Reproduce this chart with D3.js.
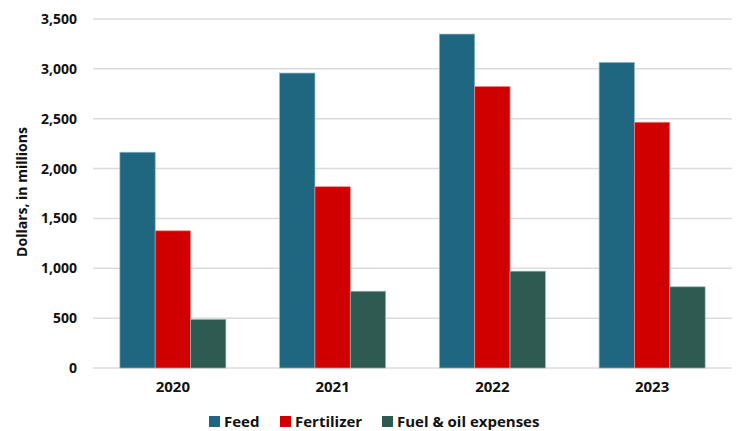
<!DOCTYPE html>
<html>
<head>
<meta charset="utf-8">
<script src="https://cdn.jsdelivr.net/npm/d3@7"></script>
<style>
  body { margin: 0; background: #fff; }
  text { font-family: "Open Sans", "DejaVu Sans", sans-serif; font-weight: bold; fill: #111; }
</style>
</head>
<body>
<div id="chart"></div>
<script>
// values (dollars, in millions)
var years = ["2020", "2021", "2022", "2023"];
var seriesNames = ["Feed", "Fertilizer", "Fuel & oil expenses"];
var feed = [2164, 2958, 3349, 3064];
var fertilizer = [1376, 1818, 2823, 2465];
var fuelOil = [488, 770, 971, 814];
var yTicks = [0, 500, 1000, 1500, 2000, 2500, 3000, 3500];

var colors = ["#1f6680", "#d10000", "#2e5a52"];
var strokes = ["#8fb6c6", "#f08a8a", "#9ab3ad"];

var W = 739, H = 431;
var margin = { top: 19, right: 7, bottom: 63, left: 93 };
var width = W - margin.left - margin.right;
var height = H - margin.top - margin.bottom;

var svg = d3.select("#chart").append("svg")
    .attr("width", W)
    .attr("height", H);

var g = svg.append("g")
    .attr("transform", "translate(" + margin.left + "," + margin.top + ")");

var x = d3.scaleBand().domain(years).range([0, width]).padding(0);
var x1 = d3.scaleBand().domain(seriesNames).range([0, 106]);
var y = d3.scaleLinear().domain([0, 3500]).range([height, 0]);

// gridlines
g.selectAll("line.grid")
    .data(yTicks)
    .enter()
    .append("line")
    .attr("class", "grid")
    .attr("x1", 0)
    .attr("x2", width)
    .attr("y1", function (d) { return y(d); })
    .attr("y2", function (d) { return y(d); })
    .style("stroke", "#dcdcdc")
    .style("stroke-width", 1.5);

// y axis labels
var yaxis = g.append("g")
    .call(d3.axisLeft(y).tickValues(yTicks).tickSize(0).tickPadding(16).tickFormat(d3.format(",")));
yaxis.select("path").remove();
yaxis.selectAll("text")
    .style("font-size", "14px")
    .style("fill", "#111");

// x axis labels
var xaxis = g.append("g")
    .attr("transform", "translate(0," + height + ")")
    .call(d3.axisBottom(x).tickSize(0).tickPadding(13));
xaxis.select("path").remove();
xaxis.selectAll("text")
    .style("font-size", "15px")
    .style("fill", "#111");

// bars
var allSeries = [feed, fertilizer, fuelOil];
var rows = [];
for (var s = 0; s < allSeries.length; s++) {
    for (var i = 0; i < years.length; i++) {
        rows.push({ series: s, year: years[i], value: allSeries[s][i] });
    }
}

g.selectAll("rect.bar")
    .data(rows)
    .enter()
    .append("rect")
    .attr("class", "bar")
    .attr("x", function (d) {
        return x(d.year) + (x.bandwidth() - 106) / 2 + x1(seriesNames[d.series]);
    })
    .attr("y", function (d) { return y(d.value); })
    .attr("width", x1.bandwidth())
    .attr("height", function (d) { return height - y(d.value); })
    .style("fill", function (d) { return colors[d.series]; })
    .style("stroke", function (d) { return strokes[d.series]; })
    .style("stroke-width", 0.7);

// y axis title
svg.append("text")
    .attr("transform", "translate(27,192) rotate(-90)")
    .attr("text-anchor", "middle")
    .style("font-size", "14px")
    .text("Dollars, in millions");

// legend
var legendX = [209, 280, 382];
var legend = svg.selectAll("g.legend")
    .data(seriesNames)
    .enter()
    .append("g")
    .attr("class", "legend")
    .attr("transform", function (d, i) { return "translate(" + legendX[i] + ",416)"; });

legend.append("rect")
    .attr("width", 11)
    .attr("height", 11)
    .style("fill", function (d, i) { return colors[i]; });

legend.append("text")
    .attr("x", 15)
    .attr("y", 11)
    .style("font-size", "15px")
    .text(function (d) { return d; });
</script>
</body>
</html>
